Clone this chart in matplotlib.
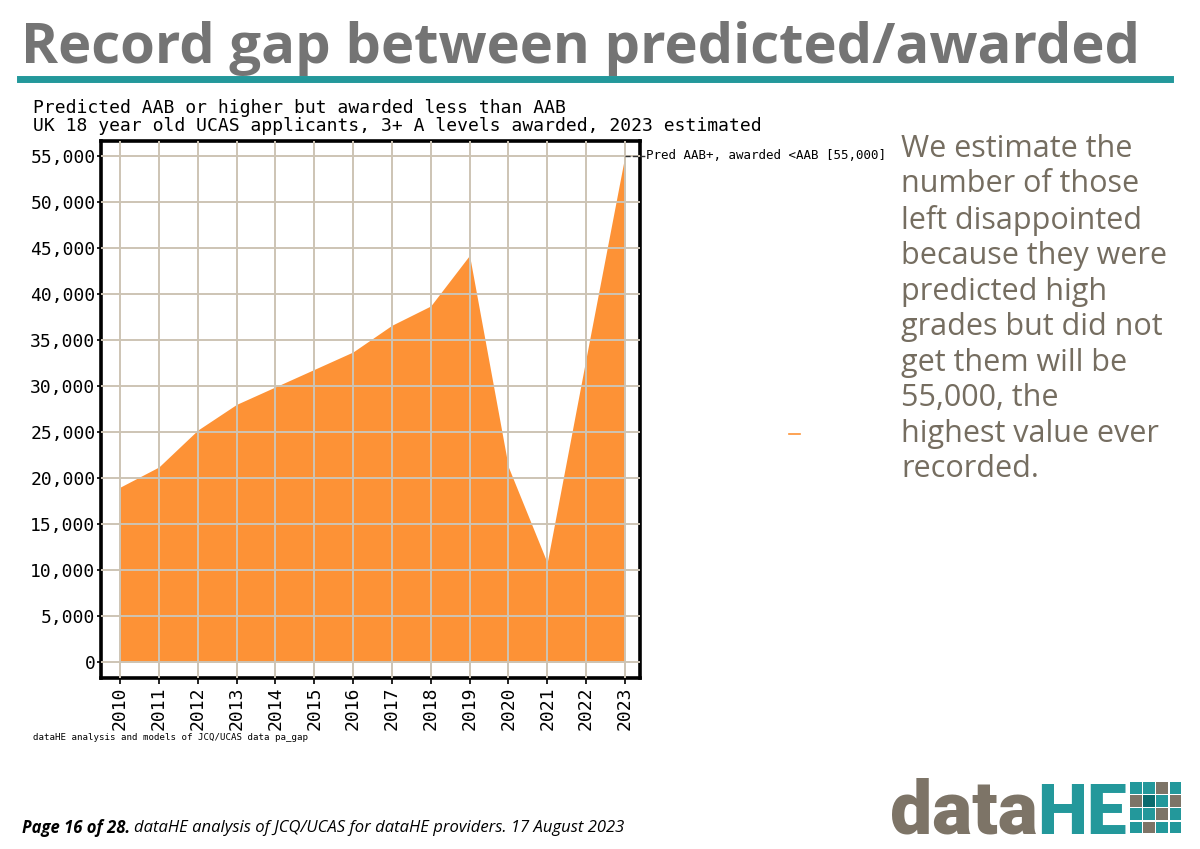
import matplotlib.pyplot as plt
from matplotlib.patches import Rectangle
from matplotlib.lines import Line2D
from matplotlib.ticker import StrMethodFormatter

# values
years = [2010, 2011, 2012, 2013, 2014, 2015, 2016, 2017, 2018, 2019, 2020, 2021, 2022, 2023]
gap = [19000, 21200, 25200, 28000, 29900, 31800, 33700, 36600, 38700, 44200, 21200, 10800, 33000, 55000]
y_ticks = [0, 5000, 10000, 15000, 20000, 25000, 30000, 35000, 40000, 45000, 50000, 55000]

series_label = 'Pred AAB+, awarded <AAB [55,000]'
chart_title = ('Predicted AAB or higher but awarded less than AAB\n'
               'UK 18 year old UCAS applicants, 3+ A levels awarded, 2023 estimated')
source_note = 'dataHE analysis and models of JCQ/UCAS data pa_gap'
side_text = ('We estimate the\nnumber of those\nleft disappointed\nbecause they were\n'
             'predicted high\ngrades but did not\nget them will be\n55,000, the\n'
             'highest value ever\nrecorded.')

ORANGE = '#fd9236'
TEAL = '#23989b'
DARK_TEAL = '#0a6b6e'
LOGO_GREY = '#7d7467'
GRID = '#cdc4b4'
MONO = 'DejaVu Sans Mono'

W, H = 1200, 849
fig = plt.figure(figsize=(W / 100, H / 100), dpi=100)
fig.patch.set_facecolor('white')


def px(x, y):
    # pixel coords (top-left origin) -> figure fraction
    return x / W, 1 - y / H


# page header
fig.text(*px(21, 48), 'Record gap between predicted/awarded', family='Open Sans',
         weight='bold', fontsize=40.5, color='#747474', va='center', ha='left')
fig.add_artist(Line2D([20 / W, 1170 / W], [1 - 78.5 / H] * 2, color=TEAL, lw=5))

# chart
left, right, top, bottom = 101, 640, 141, 678
ax = fig.add_axes([left / W, 1 - bottom / H, (right - left) / W, (bottom - top) / H])
ax.fill_between(years, 0, gap, color=ORANGE, lw=0, zorder=1)
ax.set_xlim(2009.51, 2023.39)
ax.set_ylim(-1740, 56630)
ax.set_xticks(years)
ax.set_yticks(y_ticks)
ax.yaxis.set_major_formatter(StrMethodFormatter('{x:,.0f}'))
ax.grid(True, color=GRID, lw=1.4, zorder=2)
ax.set_axisbelow(False)
for sp in ax.spines.values():
    sp.set_linewidth(2.6)
    sp.set_color('black')
ax.tick_params(axis='x', labelrotation=90, length=4, width=1.2, pad=2)
ax.tick_params(axis='y', length=3, width=1.2, pad=1)
for lab in ax.get_xticklabels() + ax.get_yticklabels():
    lab.set_family(MONO)
    lab.set_fontsize(13)

ax.plot([years[-1], 2023.54], [gap[-1], gap[-1]], ls='--', lw=1, color='#333333',
        clip_on=False, zorder=5)
ax.text(2023.55, gap[-1], series_label, family=MONO, fontsize=9, va='center',
        ha='left', clip_on=False)

fig.text(*px(33, 117), chart_title, family=MONO, fontsize=13, va='center',
         ha='left', linespacing=1.05)
fig.text(*px(33, 737), source_note, family=MONO, fontsize=6.6, va='center', ha='left')

# stray legend dash
fig.add_artist(Line2D([789 / W, 800 / W], [1 - 434 / H] * 2, color=ORANGE, lw=1.2))

# commentary
fig.text(*px(901, 309), side_text, family='Open Sans', fontsize=22, color='#756d60',
         va='center', ha='left', linespacing=1.24)

# footer
fig.text(*px(22, 828), 'Page 16 of 28.', family='Open Sans', style='italic',
         weight='bold', fontsize=12, color='black', va='center', ha='left')
fig.text(*px(134, 828), 'dataHE analysis of JCQ/UCAS for dataHE providers. 17 August 2023',
         family='Open Sans', style='italic', fontsize=12, color='black', va='center', ha='left')

# logo
fig.text(*px(1038, 834), 'data', family='Roboto', weight='black', fontsize=54,
         color=LOGO_GREY, va='baseline', ha='right')
fig.text(*px(1037, 834), 'HE', family='Roboto', weight='black', fontsize=51,
         color=TEAL, va='baseline', ha='left')
logo_cells = [
    [TEAL, TEAL, LOGO_GREY, TEAL],
    [LOGO_GREY, DARK_TEAL, TEAL, LOGO_GREY],
    [TEAL, TEAL, LOGO_GREY, TEAL],
    [TEAL, LOGO_GREY, TEAL, TEAL],
]
for r, row in enumerate(logo_cells):
    for c, col in enumerate(row):
        x0 = 1130 + c * 13.2
        y0 = 782 + r * 13.2
        fig.add_artist(Rectangle((x0 / W, 1 - (y0 + 11.5) / H), 11.5 / W, 11.5 / H,
                                 color=col, lw=0))

fig.savefig('out.png', dpi=100)
